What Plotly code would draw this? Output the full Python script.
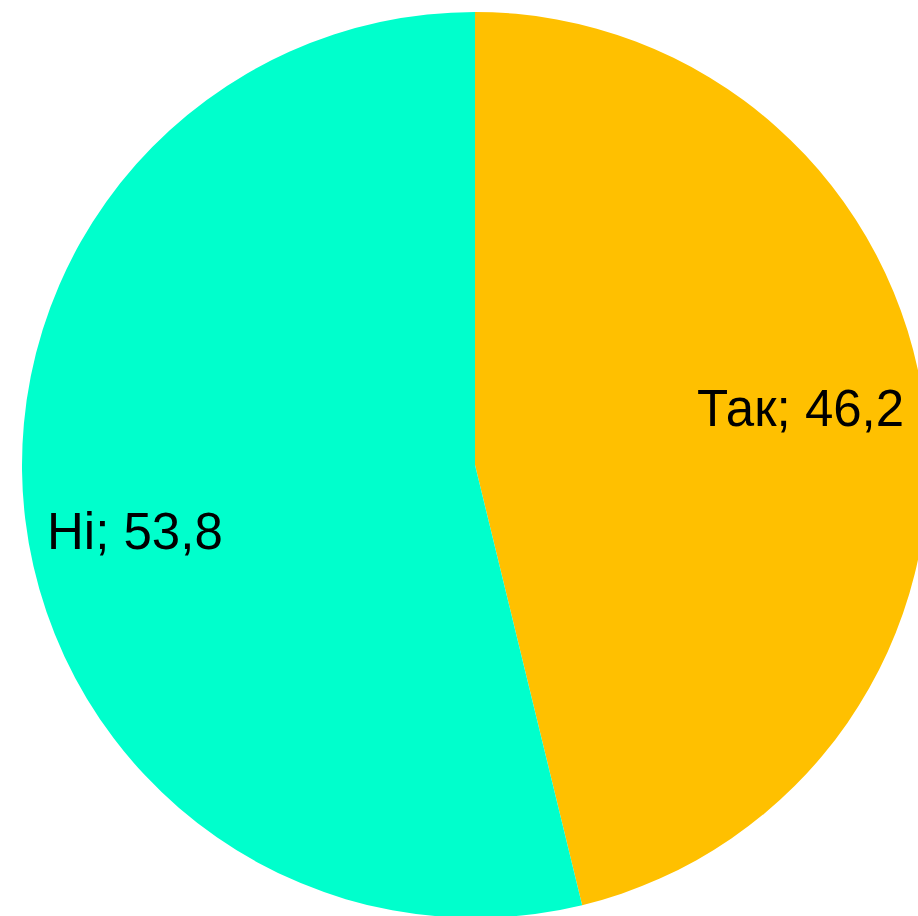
import plotly.graph_objects as go

labels = ["Так", "Ні"]
values = [46.2, 53.8]
colors = ["#FFC000", "#00FFCC"]
value_text = ["46,2", "53,8"]

W, H = 940, 930
cx, cy, r = 475, 465, 453

fig = go.Figure(go.Pie(
    labels=labels,
    values=values,
    sort=False,
    direction="clockwise",
    rotation=0,
    marker=dict(colors=colors, line=dict(width=0)),
    textinfo="none",
    hoverinfo="label+value",
    showlegend=False,
    domain=dict(x=[(cx - r) / W, (cx + r) / W], y=[(H - cy - r) / H, (H - cy + r) / H]),
))

label_pos = [(800, 409), (135, 531)]
for lab, vt, (px, py) in zip(labels, value_text, label_pos):
    fig.add_annotation(
        text=f"{lab}; {vt}", x=px / W, y=1 - py / H, xref="paper", yref="paper",
        xanchor="center", yanchor="middle", showarrow=False,
        font=dict(family="Liberation Sans, Arial, sans-serif", size=51, color="black"),
    )

fig.update_layout(
    width=W, height=H, autosize=False,
    margin=dict(l=0, r=0, t=0, b=0),
    paper_bgcolor="white", plot_bgcolor="white",
)

fig.write_html(
    "out.html",
    config={"displayModeBar": False},
    post_script="document.body.style.margin='0';document.body.style.overflow='hidden';document.documentElement.style.overflow='hidden';",
)
